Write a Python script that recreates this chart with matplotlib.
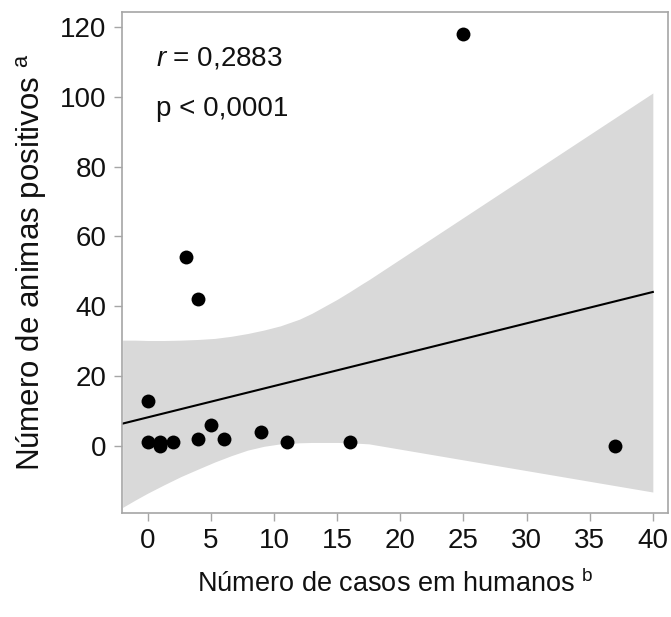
import matplotlib
matplotlib.use("Agg")
import matplotlib.pyplot as plt
import numpy as np

# Data
cases = [0, 0, 1, 1, 2, 3, 4, 4, 5, 6, 9, 11, 16, 25, 37]
animals = [13, 1, 1, 0, 1, 54, 42, 2, 6, 2, 4, 1, 1, 118, 0]

fit_x = [-2, 40]
fit_y = [6.4, 44.1]

band_x = [-2, -1, 0, 1.3, 2.6, 4, 5.3, 6.6, 7.9, 9.2, 10.5, 12, 13, 14, 15, 16, 17, 17.5, 40]
band_upper = [30.3, 30.3, 30.2, 30.2, 30.3, 30.5, 30.8, 31.4, 32.2, 33.2, 34.4, 36.3, 38.0, 40.0, 42.0, 44.2, 46.5, 47.6, 101.1]
band_lower = [-17.6, -15.5, -13.5, -11.1, -8.8, -6.6, -4.6, -2.8, -1.2, -0.1, 0.6, 0.9, 1.0, 1.0, 1.0, 0.9, 0.7, 0.6, -13.2]

xticks = [0, 5, 10, 15, 20, 25, 30, 35, 40]
yticks = [0, 20, 40, 60, 80, 100, 120]

plt.rcParams['font.family'] = ['Liberation Sans', 'DejaVu Sans']
plt.rcParams['mathtext.fontset'] = 'custom'
plt.rcParams['mathtext.rm'] = 'Liberation Sans'
plt.rcParams['mathtext.it'] = 'Liberation Sans:italic'

fig = plt.figure(figsize=(6.71, 6.17), dpi=100)
ax = fig.add_axes([0.1818, 0.1686, 0.8137, 0.812])

ax.fill_between(band_x, band_lower, band_upper, color='#d9d9d9', linewidth=0, zorder=1)
ax.plot(fit_x, fit_y, color='black', linewidth=1.5, zorder=2)
ax.scatter(cases, animals, s=100, color='black', zorder=3, linewidths=0)

ax.set_xlim(-2.05, 41.2)
ax.set_ylim(-19.2, 124.3)
ax.set_xticks(xticks)
ax.set_yticks(yticks)

frame_color = '#a6a6a6'
for sp in ax.spines.values():
    sp.set_color(frame_color)
    sp.set_linewidth(1.2)
ax.tick_params(axis='both', which='major', direction='out', length=6,
               width=1.0, color=frame_color, labelsize=20, labelcolor='#111111', pad=5)

ax.text(0.65, 109.0, r'$\it{r}$ = 0,2883', fontsize=20, ha='left', va='baseline', color='#111111')
ax.text(0.65, 94.5, 'p < 0,0001', fontsize=20, ha='left', va='baseline', color='#111111')

ax.set_xlabel('Número de casos em humanos $^{\\mathrm{b}}$', fontsize=19.5, labelpad=11, color='#111111')
ax.set_ylabel('Número de animas positivos $^{\\mathrm{a}}$', fontsize=22.5, labelpad=8, color='#111111')

fig.savefig('out.png', dpi=100)
